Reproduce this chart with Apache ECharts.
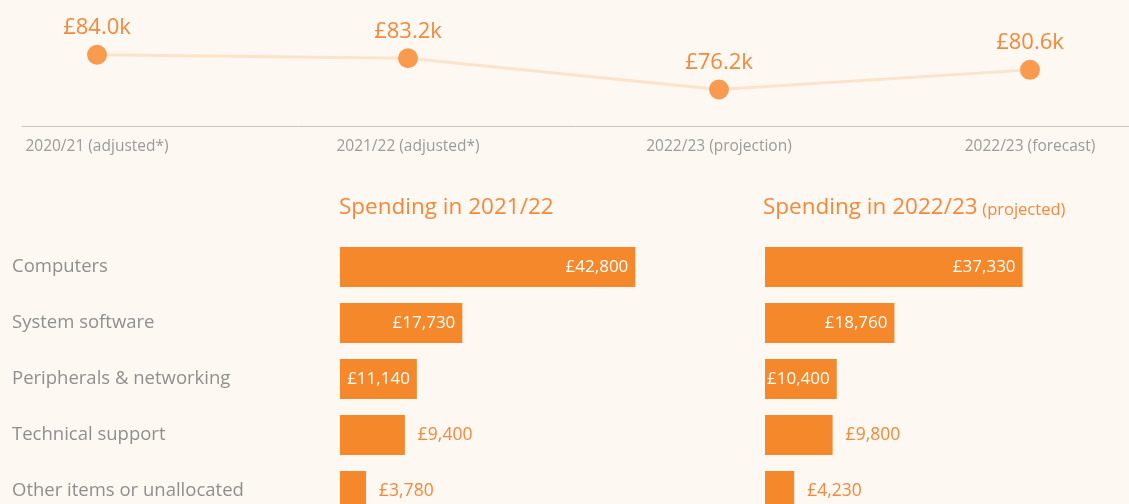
<!DOCTYPE html>
<html>
<head>
<meta charset="utf-8">
<script src="https://cdn.jsdelivr.net/npm/echarts@6/dist/echarts.min.js"></script>
<style>
  html, body { margin: 0; padding: 0; background: #fdf8f2; }
  #chart { width: 1129px; height: 504px; }
</style>
</head>
<body>
<div id="chart"></div>
<script>
// data
const years = ['2020/21 (adjusted*)', '2021/22 (adjusted*)', '2022/23 (projection)', '2022/23 (forecast)'];
const totals = [84.0, 83.2, 76.2, 80.6]; // £k
const items = ['Computers', 'System software', 'Peripherals & networking', 'Technical support', 'Other items or unallocated'];
const spend2122 = [42800, 17730, 11140, 9400, 3780];
const spend2223 = [37330, 18760, 10400, 9800, 4230];

const orange = '#f5883a';
const barColor = '#f5882b';
const font = 'Open Sans';

// big bars get the label inside, small ones outside
function barData(vals) {
  return vals.map(v => v >= 10000
    ? { value: v, label: { position: 'insideRight', color: '#fff', distance: 7, fontSize: 17 } }
    : { value: v, label: { position: 'right', color: orange, distance: 13 } });
}

const money = p => '£' + p.value.toLocaleString('en-GB');

let chart = echarts.init(document.getElementById('chart'));
chart.setOption({
  backgroundColor: '#fdf8f2',
  animation: false,
  textStyle: { fontFamily: font },
  title: [
    {
      text: 'Spending in 2021/22',
      left: 339, top: 196, padding: 0,
      textStyle: { color: orange, fontSize: 22.5, fontWeight: 'normal', fontFamily: font }
    },
    {
      text: '{a|Spending in 2022/23} {b|(projected)}',
      left: 763, top: 196, padding: 0,
      textStyle: {
        fontWeight: 'normal',
        rich: {
          a: { color: orange, fontSize: 22.5, fontWeight: 'normal', fontFamily: font },
          b: { color: orange, fontSize: 16.5, fontWeight: 'normal', fontFamily: font, padding: [5, 0, 0, 0] }
        }
      }
    }
  ],
  grid: [
    { left: 97, right: 99, top: 28, height: 98 },
    { left: 22, right: 0, top: 28, height: 98 },
    // category centres sit on the grid edges (boundaryGap false)
    { left: 340, width: 345, top: 267, height: 224 },
    { left: 765, width: 345, top: 267, height: 224 }
  ],
  xAxis: [
    {
      type: 'category', gridIndex: 0, data: years, boundaryGap: false,
      axisLine: { show: false }, axisTick: { show: false },
      axisLabel: { color: '#9b9b9b', fontSize: 15.5, margin: 13, fontFamily: font }
    },
    {
      type: 'value', gridIndex: 1, min: 0, max: 1,
      axisLine: { show: true, lineStyle: { color: '#c6c6c6', width: 1 } },
      axisTick: { show: false }, axisLabel: { show: false }, splitLine: { show: false }
    },
    { type: 'value', gridIndex: 2, min: 0, max: 50000, show: false },
    { type: 'value', gridIndex: 3, min: 0, max: 50000, show: false }
  ],
  yAxis: [
    { type: 'value', gridIndex: 0, min: 68, max: 90, show: false },
    { type: 'value', gridIndex: 1, min: 0, max: 1, show: false },
    {
      type: 'category', gridIndex: 2, data: items, inverse: true, boundaryGap: false,
      axisLine: { show: false }, axisTick: { show: false },
      axisLabel: { align: 'left', margin: 328, color: '#8f8f8f', fontSize: 18.5, fontFamily: font }
    },
    { type: 'category', gridIndex: 3, data: items, inverse: true, boundaryGap: false, show: false }
  ],
  series: [
    {
      type: 'line', xAxisIndex: 0, yAxisIndex: 0, data: totals,
      symbol: 'circle', symbolSize: 20,
      itemStyle: { color: '#f89b4f' },
      lineStyle: { color: '#fde3ca', width: 3 },
      label: {
        show: true, position: 'top', distance: 6,
        color: orange, fontSize: 22, fontFamily: font,
        formatter: p => '£' + p.value.toFixed(1) + 'k'
      }
    },
    {
      type: 'bar', xAxisIndex: 2, yAxisIndex: 2, data: barData(spend2122),
      barWidth: 40, itemStyle: { color: barColor },
      label: { show: true, fontSize: 17.5, fontFamily: font, formatter: money }
    },
    {
      type: 'bar', xAxisIndex: 3, yAxisIndex: 3, data: barData(spend2223),
      barWidth: 40, itemStyle: { color: barColor },
      label: { show: true, fontSize: 17.5, fontFamily: font, formatter: money }
    }
  ]
});
</script>
</body>
</html>
